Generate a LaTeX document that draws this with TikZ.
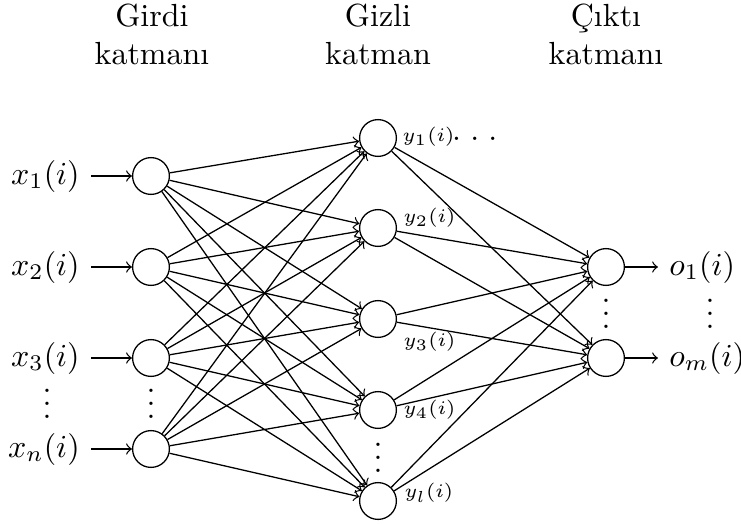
\documentclass[tikz,border=0pt]{standalone}
\usepackage{fontspec}

\tikzset{
  neuron/.style={draw,circle,minimum size=11.5pt,inner sep=0pt},
  hlabel/.style={anchor=west,inner sep=0pt,font=\fontsize{6}{7}\selectfont},
  vdotsnode/.style={anchor=base,inner sep=0pt,text height=9.2pt},
}

\begin{document}
\begin{tikzpicture}[x=0.3125pt,y=0.3125pt,yscale=-1,xscale=1]
  \useasboundingbox (0,0) rectangle (741,524);

  % Layer titles
  \node [anchor=north,align=center,inner sep=0pt] (tin) at (152,3) {Girdi\\katmanı};
  \node [anchor=north,align=center,inner sep=0pt] (thid) at (378,3) {Gizli\\katman};
  \node [anchor=north,align=center,inner sep=0pt] (tout) at (606,3) {Çıktı\\katmanı};

  % Input neurons
  \node [neuron] (x1) at (151,176) {};
  \node [neuron] (x2) at (151,267) {};
  \node [neuron] (x3) at (151,358) {};
  \node [neuron] (xn) at (151,449) {};
  % Hidden neurons
  \node [neuron] (y1) at (378,138) {};
  \node [neuron] (y2) at (378,228) {};
  \node [neuron] (y3) at (378,319) {};
  \node [neuron] (y4) at (378,410) {};
  \node [neuron] (yl) at (378,501) {};
  % Output neurons
  \node [neuron] (o1) at (606,267) {};
  \node [neuron] (om) at (606,358) {};

  % Input labels
  \node [anchor=east] (lx1) at (91,176) {$x_1(i)$};
  \node [anchor=east] (lx2) at (91,267) {$x_2(i)$};
  \node [anchor=east] (lx3) at (91,358) {$x_3(i)$};
  \node [anchor=east] (lxn) at (91,449) {$x_n(i)$};
  \draw [->] (lx1) -- (x1);
  \draw [->] (lx2) -- (x2);
  \draw [->] (lx3) -- (x3);
  \draw [->] (lxn) -- (xn);

  % Hidden labels
  \node [hlabel] (ly1) at (402,137) {$y_1(i)$};
  \node [anchor=base west,inner sep=0pt] (ly1dots) at (451.5,140) {.\kern2.9pt.\kern2.9pt.};
  \node [hlabel] (ly2) at (403,218) {$y_2(i)$};
  \node [hlabel] (ly3) at (403,342) {$y_3(i)$};
  \node [hlabel] (ly4) at (403,410) {$y_4(i)$};
  \node [hlabel] (lyl) at (404,493) {$y_l(i)$};

  % Output labels
  \node [anchor=west] (lo1) at (658,267) {$o_1(i)$};
  \node [anchor=west] (lom) at (658,358) {$o_m(i)$};
  \draw [->] (o1) -- (lo1);
  \draw [->] (om) -- (lom);

  % Vertical dots
  \node [vdotsnode] (dlx) at (47,418) {$\vdots$};
  \node [vdotsnode] (dx) at (151,418) {$\vdots$};
  \node [vdotsnode] (dy) at (378,472.5) {$\vdots$};
  \node [vdotsnode] (do) at (606,328) {$\vdots$};
  \node [vdotsnode] (dlo) at (710,328) {$\vdots$};

  % Input -> hidden
  \draw [->] (x1) -- (y1);
  \draw [->] (x1) -- (y2);
  \draw [->] (x1) -- (y3);
  \draw [->] (x1) -- (y4);
  \draw [->] (x1) -- (yl);
  \draw [->] (x2) -- (y1);
  \draw [->] (x2) -- (y2);
  \draw [->] (x2) -- (y3);
  \draw [->] (x2) -- (y4);
  \draw [->] (x2) -- (yl);
  \draw [->] (x3) -- (y1);
  \draw [->] (x3) -- (y2);
  \draw [->] (x3) -- (y3);
  \draw [->] (x3) -- (y4);
  \draw [->] (x3) -- (yl);
  \draw [->] (xn) -- (y1);
  \draw [->] (xn) -- (y2);
  \draw [->] (xn) -- (y3);
  \draw [->] (xn) -- (y4);
  \draw [->] (xn) -- (yl);

  % Hidden -> output
  \draw [->] (y1) -- (o1);
  \draw [->] (y1) -- (om);
  \draw [->] (y2) -- (o1);
  \draw [->] (y2) -- (om);
  \draw [->] (y3) -- (o1);
  \draw [->] (y3) -- (om);
  \draw [->] (y4) -- (o1);
  \draw [->] (y4) -- (om);
  \draw [->] (yl) -- (o1);
  \draw [->] (yl) -- (om);

\end{tikzpicture}
\end{document}
